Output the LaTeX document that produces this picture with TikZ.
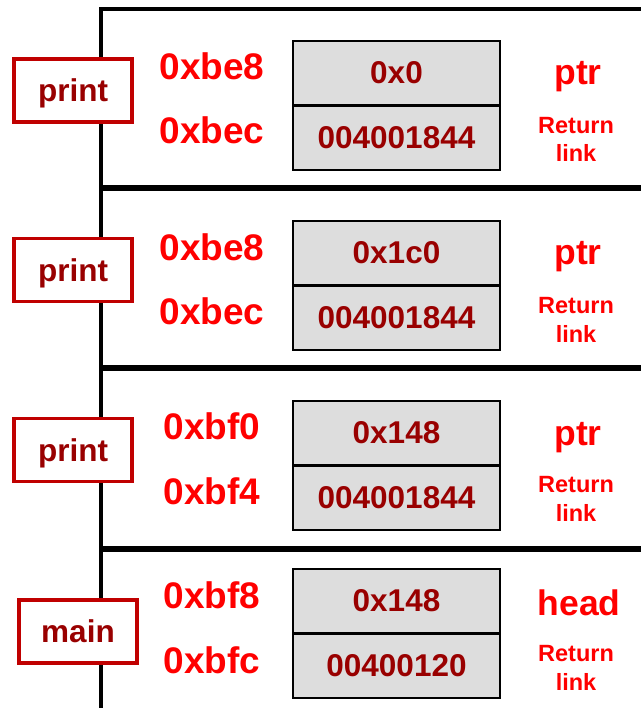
\documentclass[tikz,border=0pt]{standalone}
\usepackage{fontspec}
\setmainfont{Liberation Sans}
\definecolor{addrred}{HTML}{FF0000}
\definecolor{darkred}{HTML}{990000}
\definecolor{framered}{HTML}{C00000}
\definecolor{cellgray}{HTML}{DDDDDD}
\tikzset{
  frame/.style={draw=framered, line width=3.5pt, fill=white, minimum width=118pt, minimum height=63pt,
    inner sep=0pt, text=darkred, text depth=0pt, font=\fontsize{31.5}{34}\selectfont\bfseries},
  cell/.style={draw=black, line width=2pt, fill=cellgray, minimum width=207pt, minimum height=64pt,
    inner sep=0pt, text=darkred, font=\fontsize{31.5}{34}\selectfont\bfseries},
  addr/.style={anchor=base, text=addrred, inner sep=0pt, font=\fontsize{37}{40}\selectfont\bfseries},
  var/.style={anchor=base, text=addrred, inner sep=0pt, font=\fontsize{35.5}{38}\selectfont\bfseries},
  ret/.style={anchor=base, text=addrred, inner sep=0pt, align=center, font=\fontsize{23.5}{28.5}\selectfont\bfseries},
  topline/.style={line width=3.5pt, line join=miter},
  sepline/.style={line width=5.5pt}
}
\begin{document}
\begin{tikzpicture}[x=1pt,y=-1pt]
\useasboundingbox (0,0) rectangle (641,708);
% frame structure
\coordinate (tl) at (101,9);
\coordinate (tr) at (641,9);
\coordinate (bl) at (101,708);
\draw[topline] (bl) -- (tl) -- (tr);
\coordinate (s1l) at (101,188); \coordinate (s1r) at (641,188);
\coordinate (s2l) at (101,368); \coordinate (s2r) at (641,368);
\coordinate (s3l) at (101,549); \coordinate (s3r) at (641,549);
\draw[sepline] (s1l) -- (s1r);
\draw[sepline] (s2l) -- (s2r);
\draw[sepline] (s3l) -- (s3r);
% function frames
\node[frame] (f1) at (73,90.5) {print};
\node[frame] (f2) at (73,270) {print};
\node[frame] (f3) at (73,450) {print};
\node[frame] (f4) at (78,631.5) {main};
% block 1
\node[addr] (a1a) at (212,80) {0xbe8};
\node[addr] (a1b) at (212,144) {0xbec};
\node[cell] (c1a) at (396.5,73) {0x0};
\node[cell] (c1b) at (396.5,138) {004001844};
\node[var] (v1) at (578,85) {ptr};
\node[ret] (r1) at (576,162) {Return\\link};
% block 2
\node[addr] (a2a) at (212,260) {0xbe8};
\node[addr] (a2b) at (212,324) {0xbec};
\node[cell] (c2a) at (396.5,253) {0x1c0};
\node[cell] (c2b) at (396.5,318) {004001844};
\node[var] (v2) at (578,265) {ptr};
\node[ret] (r2) at (576,342) {Return\\link};
% block 3
\node[addr] (a3a) at (212,439) {0xbf0};
\node[addr] (a3b) at (212,504) {0xbf4};
\node[cell] (c3a) at (396.5,433) {0x148};
\node[cell] (c3b) at (396.5,497.5) {004001844};
\node[var] (v3) at (578,445) {ptr};
\node[ret] (r3) at (576,521) {Return\\link};
% block 4
\node[addr] (a4a) at (212,608) {0xbf8};
\node[addr] (a4b) at (212,673) {0xbfc};
\node[cell] (c4a) at (396.5,600.5) {0x148};
\node[cell] (c4b) at (396.5,665.5) {00400120};
\node[var] (v4) at (579,615) {head};
\node[ret] (r4) at (576,690) {Return\\link};
\end{tikzpicture}
\end{document}
